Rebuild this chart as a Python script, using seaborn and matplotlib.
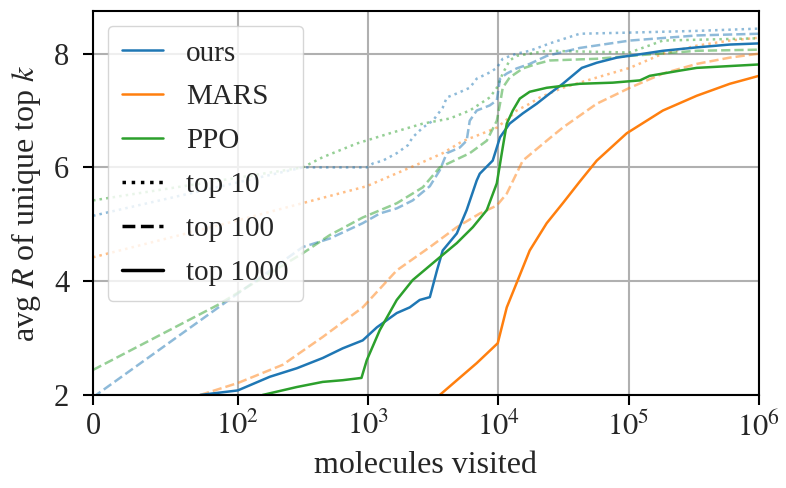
import numpy as np
import pandas as pd
import seaborn as sns
import matplotlib.pyplot as plt
from matplotlib.lines import Line2D
from matplotlib.ticker import NullLocator

methods = ['ours', 'MARS', 'PPO']
tops = ['top 10', 'top 100', 'top 1000']

# ours
ours_10_x = [0, 315, 977, 1090, 1300, 1660, 2020, 2200, 2630, 3140, 3740, 4020, 4800, 6030,
             6820, 8590, 9730, 10800, 13800, 17400, 24800, 42100, 1.02e5, 3.33e5, 1e6]
ours_10_y = [5.15, 6.0, 6.0, 6.07, 6.12, 6.25, 6.39, 6.53, 6.70, 6.82, 7.05, 7.23, 7.30, 7.40,
             7.56, 7.67, 7.75, 7.91, 8.0, 8.05, 8.18, 8.35, 8.37, 8.40, 8.44]
ours_100_x = [0, 315, 508, 910, 1230, 1660, 2200, 2980, 3550, 4020, 5060, 5710, 6030, 6820,
              8590, 9730, 10300, 11600, 13800, 17400, 23500, 42100, 1.02e5, 3.33e5, 1e6]
ours_100_y = [1.96, 4.60, 4.75, 5.02, 5.19, 5.28, 5.42, 5.67, 5.95, 6.25, 6.35, 6.47, 6.82, 7.0,
              7.09, 7.18, 7.56, 7.65, 7.74, 7.82, 7.96, 8.10, 8.23, 8.32, 8.35]
ours_1000_x = [74, 100, 176, 284, 449, 639, 910, 1170, 1660, 2090, 2490, 2980, 3380, 3740, 4800,
               5710, 6820, 7200, 9050, 10300, 12200, 15400, 19700, 24800, 31200, 43700, 56900,
               81000, 1.15e5, 1.83e5, 3.33e5, 5.97e5, 1e6]
ours_1000_y = [2.0, 2.08, 2.32, 2.47, 2.65, 2.82, 2.96, 3.19, 3.44, 3.54, 3.67, 3.72, 4.19, 4.54, 4.84,
               5.25, 5.77, 5.89, 6.12, 6.53, 6.77, 6.95, 7.12, 7.30, 7.47, 7.75, 7.84,
               7.93, 7.98, 8.05, 8.11, 8.16, 8.18]

# MARS
mars_10_x = [0, 100, 977, 2490, 3740, 5300, 7600, 9730, 12200, 13800, 17400, 20800, 31200,
             56900, 1.02e5, 1.83e5, 3.33e5, 5.97e5, 1e6]
mars_10_y = [4.42, 5.07, 5.67, 6.07, 6.25, 6.46, 6.60, 6.70, 6.88, 7.0, 7.12, 7.23, 7.40,
             7.58, 7.75, 8.0, 8.14, 8.23, 8.28]
mars_100_x = [74, 100, 221, 449, 910, 1660, 2980, 4800, 7200, 9730, 11600, 15400, 23500, 31200,
              56900, 1.02e5, 1.83e5, 3.33e5, 5.97e5, 1e6]
mars_100_y = [2.0, 2.21, 2.53, 3.02, 3.54, 4.19, 4.60, 4.95, 5.19, 5.33, 5.54, 6.12, 6.47, 6.70,
              7.12, 7.40, 7.65, 7.82, 7.93, 8.0]
mars_1000_x = [3550, 6820, 9890, 11600, 14100, 17400, 23500, 31200, 42100, 56900, 96600,
               1.83e5, 3.33e5, 5.97e5, 1e6]
mars_1000_y = [2.0, 2.56, 2.91, 3.54, 4.02, 4.54, 5.02, 5.37, 5.75, 6.12, 6.60,
               7.0, 7.26, 7.47, 7.61]

# PPO
ppo_10_x = [0, 315, 449, 818, 1470, 2630, 4240, 6030, 8590, 9730, 10800, 12200, 13800, 23500,
            1.02e5, 1.83e5, 1e6]
ppo_10_y = [5.42, 6.0, 6.18, 6.42, 6.60, 6.77, 6.86, 7.0, 7.23, 7.40, 7.65, 7.88, 7.96, 8.05,
            8.02, 8.23, 8.27]
ppo_100_x = [0, 86, 315, 508, 910, 1660, 2630, 3550, 6030, 8150, 9730, 10300, 10800, 12200,
             15400, 19700, 24800, 56900, 1.02e5, 3.33e5, 1e6]
ppo_100_y = [2.44, 3.58, 4.49, 4.81, 5.12, 5.37, 5.65, 6.0, 6.25, 6.47, 6.82, 7.12, 7.40, 7.58,
             7.74, 7.82, 7.88, 7.91, 7.96, 8.05, 8.07]
ppo_1000_x = [155, 284, 449, 639, 890, 977, 1230, 1660, 2200, 3550, 4800, 6370, 8150, 9730,
              10800, 11600, 12900, 14600, 17400, 23500, 42100, 75500, 1.22e5, 1.45e5, 2.45e5,
              3.33e5, 1e6]
ppo_1000_y = [2.0, 2.14, 2.23, 2.26, 2.30, 2.61, 3.14, 3.67, 4.02, 4.42, 4.67, 4.95, 5.25, 5.72,
              6.35, 6.77, 7.0, 7.21, 7.33, 7.40, 7.47, 7.49, 7.53, 7.61, 7.70,
              7.75, 7.81]

series = {
    ('ours', 'top 10'): (ours_10_x, ours_10_y),
    ('ours', 'top 100'): (ours_100_x, ours_100_y),
    ('ours', 'top 1000'): (ours_1000_x, ours_1000_y),
    ('MARS', 'top 10'): (mars_10_x, mars_10_y),
    ('MARS', 'top 100'): (mars_100_x, mars_100_y),
    ('MARS', 'top 1000'): (mars_1000_x, mars_1000_y),
    ('PPO', 'top 10'): (ppo_10_x, ppo_10_y),
    ('PPO', 'top 100'): (ppo_100_x, ppo_100_y),
    ('PPO', 'top 1000'): (ppo_1000_x, ppo_1000_y),
}
frames = []
for (m, t), (xs, ys) in series.items():
    frames.append(pd.DataFrame({'visited': xs, 'R': ys, 'method': m, 'top': t}))
df = pd.concat(frames, ignore_index=True)

sns.set_style('ticks')
plt.rcParams['font.family'] = ['Liberation Serif', 'DejaVu Serif']
plt.rcParams['mathtext.fontset'] = 'stix'
plt.rcParams['font.size'] = 23

palette = sns.color_palette('tab10')[:3]
line_style = {'top 10': (':', 0.5), 'top 100': ('--', 0.5), 'top 1000': ('-', 1.0)}

fig = plt.figure(figsize=(7.86, 4.88), dpi=100)
ax = fig.add_axes([0.1183, 0.1906, 0.8473, 0.7869])

for t in tops:
    ls, a = line_style[t]
    sns.lineplot(data=df[df['top'] == t], x='visited', y='R', hue='method', hue_order=methods,
                 palette=palette, estimator=None, sort=False, linestyle=ls, alpha=a, lw=1.8,
                 legend=False, ax=ax)

ax.set_xscale('symlog', linthresh=100, linscale=1)
ax.set_xlim(0, 1e6)
ax.set_ylim(2, 8.75)
ax.set_xticks([0, 1e2, 1e3, 1e4, 1e5, 1e6])
ax.set_xticklabels(['0', '$10^2$', '$10^3$', '$10^4$', '$10^5$', '$10^6$'])
ax.xaxis.set_minor_locator(NullLocator())
ax.set_yticks([2, 4, 6, 8])
ax.grid(True, color='#b0b0b0', lw=1.5)
for s in ax.spines.values():
    s.set_color('black')
    s.set_linewidth(1.5)
ax.tick_params(direction='out', length=7, width=1.5, color='black', labelsize=22)
ax.tick_params(axis='y', pad=10)
ax.tick_params(axis='x', pad=5)
ax.set_xlabel('molecules visited', labelpad=6)
ax.set_ylabel('avg $R$ of unique top $k$', labelpad=8)

handles = [Line2D([], [], color=c, lw=1.8) for c in palette]
handles += [Line2D([], [], color='k', ls=line_style[t][0], lw=2.5) for t in tops]
ax.legend(handles, methods + tops, loc='upper left', fontsize=21, handlelength=1.4,
          labelspacing=0.6, borderpad=0.5, frameon=True, fancybox=True, framealpha=0.8,
          edgecolor='#cccccc')

fig.savefig('out.png', dpi=100)
